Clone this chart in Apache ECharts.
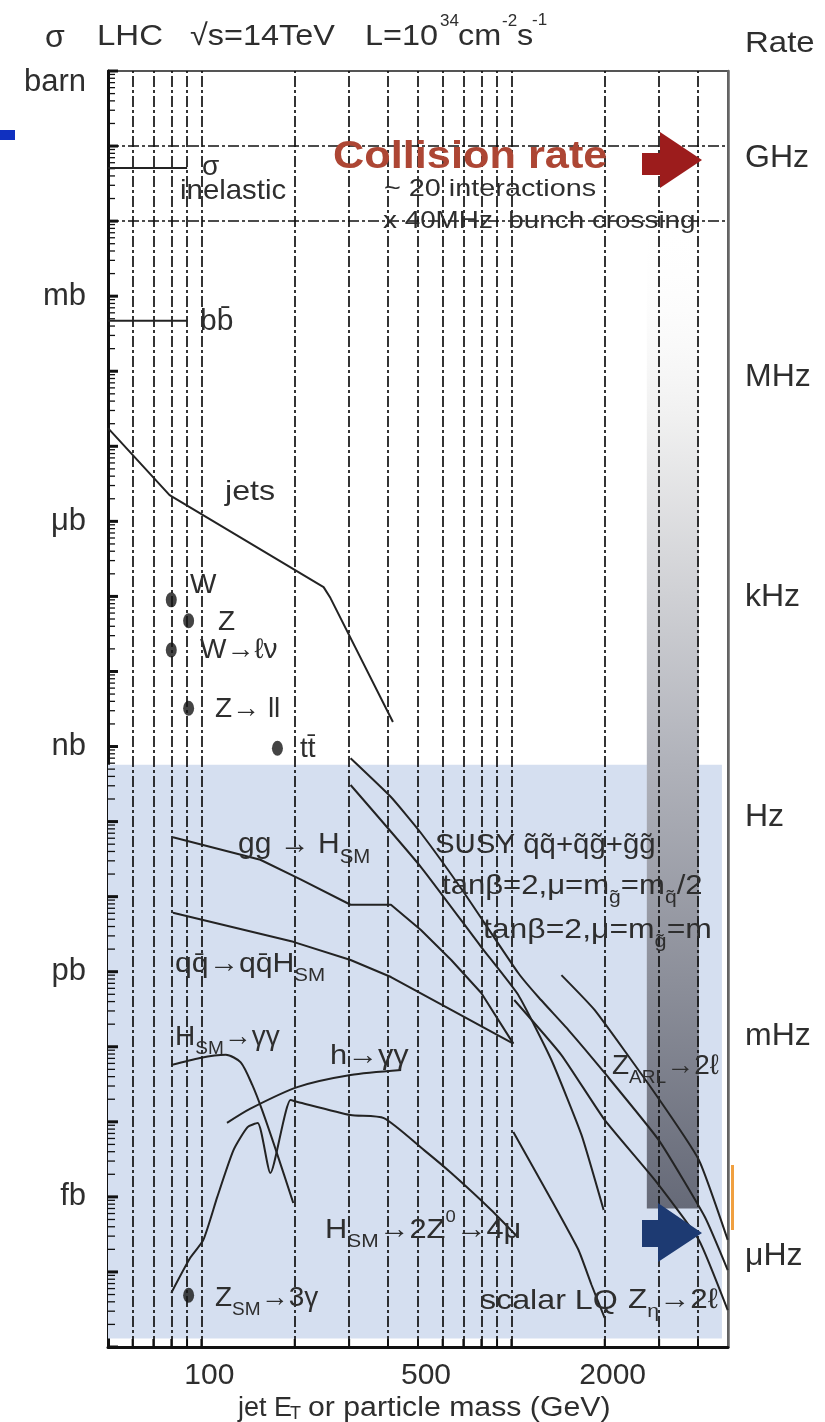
<!DOCTYPE html>
<html><head><meta charset="utf-8">
<script src="https://cdn.jsdelivr.net/npm/echarts@6/dist/echarts.min.js"></script>
<style>html,body{margin:0;padding:0;background:#fff}#c{width:825px;height:1422px}</style>
</head><body><div id="c"></div>
<script>
// ---------------- data ----------------
const xTickValues = [100, 500, 2000];
const xGridValues = [60,70,80,90,100,200,300,400,500,600,700,800,900,1000,2000,3000,4000];
const yGridValues = [1e-1,1e-2,1e-3,1e-4,1e-5,1e-6,1e-7,1e-8,1e-9,1e-10,1e-11,1e-12,1e-13,1e-14,1e-15,1e-16];
const crossUnitNames  = ['barn','mb','μb','nb','pb','fb'];
const crossUnitValues = [1, 1e-3, 1e-6, 1e-9, 1e-12, 1e-15];
const rateNames  = ['GHz','MHz','kHz','Hz','mHz','μHz'];
const rateValues = [1e9, 1e6, 1e3, 1, 1e-3, 1e-6];
const tickMantissas = [2,3,4,5,6,7,8,9];

// cross sections in barn vs jet ET / mass in GeV
const sigmaInelastic = [[50,5.1e-2],[90,5.1e-2]];
const sigmaBB        = [[50,4.7e-4],[90,4.7e-4]];
const jets   = [[50,1.75e-5],[79,2.24e-6],[248,1.33e-7],[261,9.5e-8],[415,2.12e-9]];
const ggH    = [[81,6.2e-11],[155,3.1e-11],[209,1.7e-11],[303,7.8e-12],[409,7.8e-12],[511,3.6e-12],[640,1.43e-12],[800,5.2e-13],[1015,1.1e-13]];
const qqH    = [[81,6.1e-12],[198,2.5e-12],[303,1.43e-12],[409,8.5e-13],[640,3.1e-13],[1015,1.1e-13]];
const hsmGG  = [[80,5.7e-14],[99,7.1e-14],[120,7.8e-14],[134,6.2e-14],[146,3.1e-14],[157,1.44e-14],[174,4.2e-15],[198,8.3e-16]];
const hGG    = [[121,9.7e-15],[144,1.5e-14],[204,2.9e-14],[303,4.2e-14],[441,4.9e-14]];
const hZZ4l  = [[80,5.25e-17],[92,1.53e-16],[101.5,2.67e-16],[112.6,1.0e-15],[127,4.2e-15],[141,8.5e-15],[152,9.65e-15],[167,2.08e-15],[194,1.95e-14],[204.5,1.84e-14],[303,1.23e-14],[388,1.12e-14],[523,4.2e-15],[640,2.08e-15],[861,6.7e-16],[1050,2.9e-16]];
const susyA  = [[303,7.0e-10],[409,2.13e-10],[511,7.05e-11],[705,1.12e-11],[1053,9.6e-13],[1222,4.6e-13],[1529,1.67e-13],[2000,4.48e-14],[2990,5.7e-15],[4211,5.4e-16],[4990,1.06e-16]];
const susyB  = [[303,3.07e-10],[511,2.48e-11],[800,2.13e-12],[1053,4.9e-13],[1347,6.67e-14],[1684,6.7e-15],[1985,6.7e-16]];
const zARL   = [[1451,9.0e-13],[1856,3.09e-13],[2902,2.42e-14],[4027,3.1e-15],[4990,2.67e-16]];
const zEta   = [[1022,4.2e-13],[1451,7.76e-14],[2000,1.06e-14],[2902,1.68e-15],[4027,2.67e-16],[4990,3.1e-17]];
const scalarLQ = [[1015,7.3e-15],[1347,9.1e-16],[1647,1.96e-16],[1815,6.7e-17],[2000,2.44e-17]];
const pointNames  = ['W','Z','W→ℓν','Z→ll','tt̄','Z→3γ'];
const pointValues = [[80,9.0e-8],[91,4.75e-8],[80,1.93e-8],[91,3.23e-9],[176,9.5e-10],[91,4.9e-17]];

// regions (data space)
const discoveryRegion = [[48, 5.7e-10],[4780, 1.3e-17]];
const rateBand        = [[2736, 1.0e-2],[4027, 7.0e-16]];

// right (rate) axis extent as drawn in the figure
const rateAxisMin = 5.7e-8, rateAxisMax = 1.54e10;

// ---------------- chart ----------------
const FONT = '"Liberation Sans", Arial, Helvetica, sans-serif';
const INK = '#2e2e2e';
const chart = echarts.init(document.getElementById('c'));

const tickData = [];
for (let e = -17; e <= 0; e++) {
  tickData.push([50, Math.pow(10, e), 10, 3, 0]);
  if (e < 0) tickMantissas.forEach(m => tickData.push([50, m * Math.pow(10, e), 7, 1.3, 0]));
}
xGridValues.forEach(v => tickData.push([v, 1e-17, 8, 1.8, 1]));

function curve(name, data, smooth) {
  return { name, type: 'line', data, z: 5, showSymbol: false, symbol: 'none', smooth: smooth || false,
    lineStyle: { color: '#232323', width: 2 }, silent: true };
}

function rich(F) {
  return {
    n: { fontSize: F, fontFamily: FONT, lineHeight: F * 1.5, verticalAlign: 'middle', fill: INK },
    s: { fontSize: F * 0.68, fontFamily: FONT, lineHeight: F * 0.68, verticalAlign: 'bottom', fill: INK },
    u: { fontSize: F * 0.6, fontFamily: FONT, lineHeight: F * 0.6, verticalAlign: 'top', fill: INK }
  };
}
function txt(x, y, text, F, o) {
  o = o || {};
  return { type: 'text', x, y, z: 100, scaleX: o.sx || 1, silent: true,
    style: { text, fill: o.color || INK, font: (o.weight || 'normal') + ' ' + F + 'px ' + FONT,
      align: o.align || 'left', verticalAlign: 'middle', rich: rich(F) } };
}

const graphics = [
  // title
  txt(45, 38, 'σ', 32),
  txt(97, 37, 'LHC', 30, { sx: 1.1 }),
  txt(190, 37, '√s=14TeV', 30, { sx: 1.08 }),
  txt(365, 37, 'L=10', 30, { sx: 1.08 }),
  txt(440, 21, '34', 17),
  txt(458, 37, 'cm', 30, { sx: 1.08 }),
  txt(502, 21, '-2', 17),
  txt(517, 37, 's', 30, { sx: 1.08 }),
  txt(532, 20, '-1', 17),
  txt(745, 44, 'Rate', 30, { sx: 1.1 }),
  // x axis name
  txt(238, 1409, 'jet E', 27),
  txt(290, 1414, 'T', 18),
  txt(308, 1409, 'or particle mass (GeV)', 27, { sx: 1.12 }),
  // annotations
  txt(202, 167, 'σ', 28),
  txt(180, 191, 'inelastic', 28, { sx: 1.05 }),
  txt(200, 322, 'bb̄', 30),
  txt(225, 492, 'jets', 28, { sx: 1.15 }),
  txt(190, 585, 'W', 28),
  txt(218, 622, 'Z', 28),
  txt(200, 650, 'W→ℓν', 28),
  txt(215, 709, 'Z→ ll', 28),
  txt(300, 749, 'tt̄', 28),
  txt(238, 845, '{n|gg → H}{s|SM}', 30),
  txt(175, 964, '{n|qq̄→qq̄H}{s|SM}', 28, { sx: 1.08 }),
  txt(435, 845, 'SUSY q̃q̃+q̃g̃+g̃g̃', 28, { sx: 1.05 }),
  txt(442, 886, '{n|tanβ=2,μ=m}{s|g̃}{n|=m}{s|q̃}{n|/2}', 28, { sx: 1.11 }),
  txt(483, 930, '{n|tanβ=2,μ=m}{s|g̃}{n|=m}', 28, { sx: 1.14 }),
  txt(175, 1037, '{n|H}{s|SM}{n|→γγ}', 28),
  txt(330, 1056, 'h→γγ', 28, { sx: 1.1 }),
  txt(325, 1230, '{n|H}{s|SM}{n|→2Z}{u|0}{n|→4μ}', 28, { sx: 1.1 }),
  txt(215, 1298, '{n|Z}{s|SM}{n|→3γ}', 28),
  txt(480, 1301, 'scalar LQ', 28, { sx: 1.15 }),
  txt(628, 1300, '{n|Z}{s|η}{n|→2ℓ}', 28, { sx: 1.12 }),
  txt(612, 1066, '{n|Z}{s|ARL}{n|→2ℓ}', 28),
  txt(333, 158, 'Collision rate', 38, { weight: 'bold', color: '#ad4634', sx: 1.14 }),
  txt(384, 189, '~ 20 interactions', 24, { sx: 1.2 }),
  txt(383, 221, 'x 40MHz  bunch crossing', 24, { sx: 1.16 }),
  // arrows & decorations
  { type: 'polygon', z: 90, silent: true, shape: { points: [[642,153],[660,153],[660,132],[702,160],[660,188],[660,175],[642,175]] }, style: { fill: '#9c1c1c' } },
  { type: 'polygon', z: 90, silent: true, shape: { points: [[642,1220],[658,1220],[658,1203],[702,1233],[658,1262],[658,1247],[642,1247]] }, style: { fill: '#1d3a72' } },
  { type: 'rect', z: 90, silent: true, shape: { x: 731, y: 1165, width: 3, height: 65 }, style: { fill: '#f0a040' } },
  { type: 'rect', z: 90, silent: true, shape: { x: 0, y: 130, width: 15, height: 10 }, style: { fill: '#1030c0' } }
];

const option = {
  animation: false,
  backgroundColor: '#ffffff',
  grid: { left: 108, right: 97, top: 71, bottom: 75, show: true, borderColor: '#555', borderWidth: 2, backgroundColor: 'transparent' },
  xAxis: {
    type: 'log', logBase: 10, min: 50, max: 5000,
    axisLine: { show: true, lineStyle: { color: '#111', width: 3 } },
    axisTick: { show: false },
    splitLine: { show: false }, minorTick: { show: false },
    axisLabel: { customValues: xTickValues, fontSize: 30, fontFamily: FONT, color: INK, margin: 14, padding: [0, 0, 0, 16],
      formatter: v => String(Math.round(v)) }
  },
  yAxis: [
    { type: 'log', logBase: 10, min: 1e-17, max: 1, position: 'left',
      axisLine: { show: true, lineStyle: { color: '#111', width: 3 } },
      axisTick: { show: false }, splitLine: { show: false },
      axisLabel: { customValues: crossUnitValues, fontSize: 31, fontFamily: FONT, color: INK, margin: 22,
        formatter: v => { const i = crossUnitValues.findIndex(c => Math.abs(Math.log10(c) - Math.log10(v)) < 0.01);
          const t = i >= 0 ? crossUnitNames[i] : ''; return i === 0 ? '{b|' + t + '}' : t; },
        rich: { b: { fontSize: 31, fontFamily: FONT, color: INK, padding: [22, 0, 0, 0] } } } },
    { type: 'log', logBase: 10, min: rateAxisMin, max: rateAxisMax, position: 'right',
      axisLine: { show: true, lineStyle: { color: '#666', width: 2.5 } },
      axisTick: { show: false }, splitLine: { show: false },
      axisLabel: { customValues: rateValues, fontSize: 32, fontFamily: FONT, color: INK, margin: 17, align: 'left',
        formatter: v => { const i = rateValues.findIndex(c => Math.abs(Math.log10(c) - Math.log10(v)) < 0.01); return i >= 0 ? rateNames[i] : ''; } } }
  ],
  series: [
    { name: 'regions', type: 'line', data: [[50, 1e-17]], symbol: 'none', lineStyle: { width: 0 }, silent: true, z: 1,
      markArea: { silent: true, z: 1, itemStyle: { color: '#d5dff0' },
        data: [[{ coord: discoveryRegion[0] }, { coord: discoveryRegion[1] }]] } },
    { name: 'band', type: 'line', data: [[50, 1e-17]], symbol: 'none', lineStyle: { width: 0 }, silent: true, z: 2,
      markArea: { silent: true, z: 2,
        itemStyle: { color: { type: 'linear', x: 0, y: 0, x2: 0, y2: 1, colorStops: [
          { offset: 0, color: 'rgba(255,255,255,0)' }, { offset: 0.2, color: '#f0f0f0' },
          { offset: 0.55, color: '#b0b2ba' }, { offset: 1, color: '#666a78' }] } },
        data: [[{ coord: rateBand[0] }, { coord: rateBand[1] }]] } },
    { name: 'grid', type: 'line', data: [[50, 1e-17]], symbol: 'none', lineStyle: { width: 0 }, silent: true, z: 3,
      markLine: { silent: true, z: 3, symbol: 'none', label: { show: false },
        lineStyle: { color: '#111', width: 1.7, type: [11, 3, 3, 3] },
        data: xGridValues.map(v => ({ xAxis: v })).concat(yGridValues.map(v => ({ yAxis: v }))) } },
    { name: 'ticks', type: 'custom', z: 4, silent: true, clip: false, data: tickData,
      renderItem: (params, api) => {
        const p = api.coord([api.value(0), api.value(1)]);
        const len = api.value(2), w = api.value(3), dir = api.value(4);
        const shape = dir === 0 ? { x1: p[0], y1: p[1], x2: p[0] + len, y2: p[1] } : { x1: p[0], y1: p[1], x2: p[0], y2: p[1] - len };
        return { type: 'line', shape, style: { stroke: '#111', lineWidth: w } };
      } },
    curve('inelastic', sigmaInelastic), curve('bb', sigmaBB), curve('jets', jets),
    curve('ggH', ggH), curve('qqH', qqH), curve('HSMgg', hsmGG, 0.25), curve('hgg', hGG, 0.25),
    curve('HZZ4l', hZZ4l, 0.2), curve('susyA', susyA, 0.15), curve('susyB', susyB, 0.15),
    curve('zARL', zARL, 0.15), curve('zEta', zEta, 0.15), curve('LQ', scalarLQ, 0.15),
    { name: 'points', type: 'scatter', z: 6, silent: true, symbol: 'circle', symbolSize: [11, 15],
      itemStyle: { color: '#151515' }, data: pointValues }
  ],
  graphic: { elements: graphics }
};
chart.setOption(option);
</script></body></html>
